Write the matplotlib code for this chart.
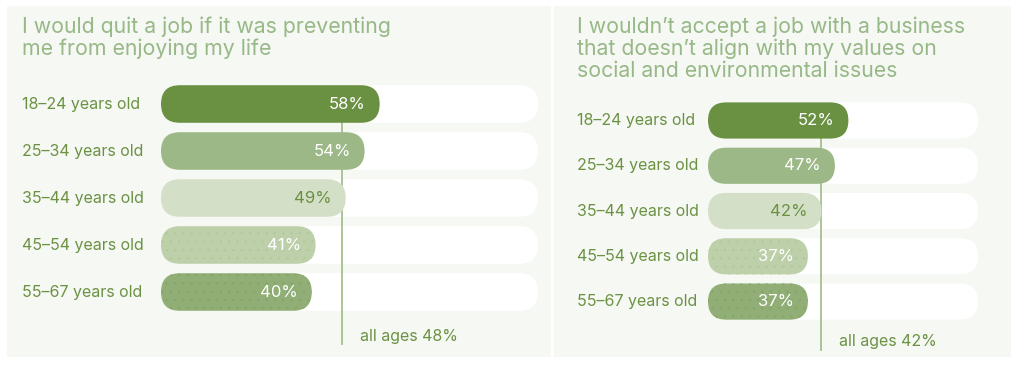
import matplotlib
matplotlib.use("Agg")
import matplotlib.pyplot as plt
from matplotlib.patches import FancyBboxPatch, Rectangle
from matplotlib.transforms import blended_transform_factory

plt.rcParams['font.family'] = ['Inter', 'DejaVu Sans']
plt.rcParams['hatch.linewidth'] = 0.4

# data
ages = ["18–24 years old", "25–34 years old", "35–44 years old",
        "45–54 years old", "55–67 years old"]
quit_vals = [58, 54, 49, 41, 40]
quit_avg = 48
values_vals = [52, 47, 42, 37, 37]
values_avg = 42
title_left = ["I would quit a job if it was preventing", "me from enjoying my life"]
title_right = ["I wouldn’t accept a job with a business",
               "that doesn’t align with my values on",
               "social and environmental issues"]

bar_colors = ["#6a9142", "#9cb886", "#d3dfc7", "#bdd0aa", "#90ae75"]
hatch_edge = [None, None, None, "#b0c79b", "#84a468"]
text_colors = ["white", "white", "#6a9142", "white", "white"]
title_color = "#97b887"
label_color = "#6b9244"
line_color = "#a5bf8e"
panel_bg = "#f6f8f3"

W, H = 1024, 368
fig = plt.figure(figsize=(W / 100, H / 100), dpi=100)
fig.patch.set_facecolor("white")


def fx(px):
    return px / W


def fy(px):
    return 1 - px / H


# panel backgrounds
for x0, x1 in [(7, 551), (554, 1011)]:
    fig.add_artist(Rectangle((fx(x0), fy(357)), fx(x1 - x0), (357 - 6) / H,
                             transform=fig.transFigure, facecolor=panel_bg,
                             edgecolor="none", zorder=0))


def panel(vals, avg, title, left, right, top, bottom, ytop, ybot,
          label_x, title_y, line_span, avg_text_y):
    ax = fig.add_axes([fx(left), fy(bottom), fx(right - left), (bottom - top) / H])
    ax.set_xlim(0, 100)
    ax.set_ylim(ybot, ytop)
    ax.axis("off")
    ax.patch.set_alpha(0)

    px_x = (right - left) / 100.0
    px_y = (bottom - top) / (ybot - ytop)
    aspect = px_x / px_y
    h = 0.8
    r = h * px_y / 2 / px_x

    for i, v in enumerate(vals):
        track = FancyBboxPatch((0, i - h / 2), 100, h,
                               boxstyle=f"round,pad=0,rounding_size={r}",
                               mutation_aspect=aspect, facecolor="white",
                               edgecolor="none", zorder=1)
        ax.add_patch(track)
        kw = dict(facecolor=bar_colors[i], zorder=3)
        if hatch_edge[i]:
            kw.update(edgecolor=hatch_edge[i], hatch="..", linewidth=0)
        else:
            kw.update(edgecolor="none")
        bar = FancyBboxPatch((0, i - h / 2), v, h,
                             boxstyle=f"round,pad=0,rounding_size={r}",
                             mutation_aspect=aspect, **kw)
        ax.add_patch(bar)
        ax.text(v - 14 / px_x, i, f"{v}%", ha="right", va="center",
                fontsize=12, color=text_colors[i], zorder=4)

    ax.plot([avg, avg], line_span, color=line_color, lw=1.3, zorder=2)
    ax.text(avg + 18 / px_x, avg_text_y, f"all ages {avg}%", ha="left",
            va="center", fontsize=11.5, color=label_color)

    trans = blended_transform_factory(fig.transFigure, ax.transData)
    for i, lab in enumerate(ages):
        ax.text(fx(label_x), i, lab, transform=trans, ha="left", va="center",
                fontsize=11.5, color=label_color)

    for k, line in enumerate(title):
        fig.text(fx(label_x), fy(title_y + 22 * k), line, ha="left",
                 va="baseline", fontsize=15.3, color=title_color)


panel(quit_vals, quit_avg, title_left, 161, 538, 80.5, 350, -0.5, 5.234,
      22, 33, [0.4, 5.1], 4.94)
panel(values_vals, values_avg, title_right, 708, 978, 97.85, 355, -0.5, 5.18,
      577, 33, [0.4, 5.07], 4.89)

fig.savefig("out.png", dpi=100, facecolor="white")
